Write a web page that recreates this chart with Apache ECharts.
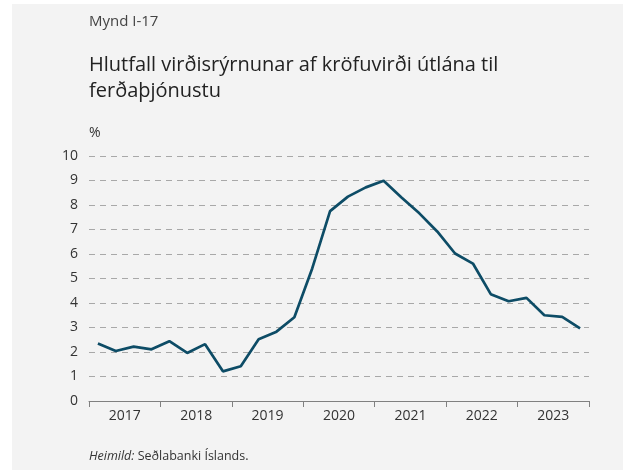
<!DOCTYPE html>
<html>
<head>
<meta charset="utf-8">
<script src="https://cdn.jsdelivr.net/npm/echarts@6/dist/echarts.min.js"></script>
<style>
	body { margin: 0; background: #ffffff; }
	#panel { position: absolute; left: 12px; top: 4px; width: 611px; height: 466px; background: #f3f3f3; }
	#chart { position: absolute; left: 0; top: 0; width: 623px; height: 470px; }
</style>
</head>
<body>
<div id="panel"></div>
<div id="chart"></div>
<script>
// ársfjórðungar 2017-2023
var years = ['2017', '2018', '2019', '2020', '2021', '2022', '2023'];
var quarters = [];
for (var i = 0; i < years.length; i++) {
	for (var q = 1; q <= 4; q++) {
		quarters.push(years[i] + 'Q' + q);
	}
}
var values = [
	2.35, 2.04, 2.22, 2.11, 2.44, 1.96, 2.32, 1.21,
	1.42, 2.52, 2.83, 3.42, 5.41, 7.75, 8.34, 8.72,
	8.99, 8.31, 7.66, 6.92, 6.02, 5.61, 4.36, 4.07,
	4.21, 3.50, 3.43, 2.96
];
var yTicks = [0, 1, 2, 3, 4, 5, 6, 7, 8, 9, 10];

var font = '"Open Sans", "Noto Sans", sans-serif';
var myChart = echarts.init(document.getElementById('chart'));
myChart.setOption({
	textStyle: { fontFamily: font },
	title: [
		{
			text: 'Mynd I-17',
			left: 89,
			top: 14,
			padding: 0,
			textStyle: { fontFamily: font, fontSize: 15, fontWeight: 'normal', color: '#444444' }
		},
		{
			text: 'Hlutfall virðisrýrnunar af kröfuvirði útlána til\nferðaþjónustu',
			left: 89,
			top: 52,
			padding: 0,
			textStyle: { fontFamily: font, fontSize: 20, fontWeight: 'normal', color: '#222222', lineHeight: 26 }
		},
		{
			text: '{i|Heimild:} Seðlabanki Íslands.',
			left: 89,
			top: 450,
			padding: 0,
			textStyle: {
				fontFamily: font, fontSize: 12.5, fontWeight: 'normal', color: '#333333',
				rich: { i: { fontFamily: font, fontSize: 12.5, fontStyle: 'italic', color: '#333333' } }
			}
		}
	],
	grid: { left: 89, right: 34, top: 156, bottom: 69 },
	xAxis: [
		{
			type: 'category',
			data: years,
			boundaryGap: true,
			axisLine: { lineStyle: { color: '#808080', width: 1 } },
			axisTick: { show: true, length: 6, lineStyle: { color: '#808080' } },
			axisLabel: { color: '#333333', fontSize: 14, margin: 8 },
			splitLine: { show: false }
		},
		{
			type: 'category',
			data: quarters,
			boundaryGap: true,
			position: 'bottom',
			show: false
		}
	],
	yAxis: {
		type: 'value',
		min: yTicks[0],
		max: yTicks[yTicks.length - 1],
		interval: 1,
		name: '%',
		nameGap: 16,
		nameTextStyle: { color: '#333333', fontSize: 14, align: 'left', padding: [0, 0, 0, 0] },
		axisLine: { show: false },
		axisTick: { show: false },
		axisLabel: { color: '#333333', fontSize: 14, margin: 11 },
		splitLine: { lineStyle: { color: '#a8a8a8', type: [6, 5], width: 1 } }
	},
	series: [{
		type: 'line',
		xAxisIndex: 1,
		data: values,
		symbol: 'none',
		lineStyle: { color: '#0d4c66', width: 2.7 },
		itemStyle: { color: '#0d4c66' }
	}]
});
</script>
</body>
</html>
